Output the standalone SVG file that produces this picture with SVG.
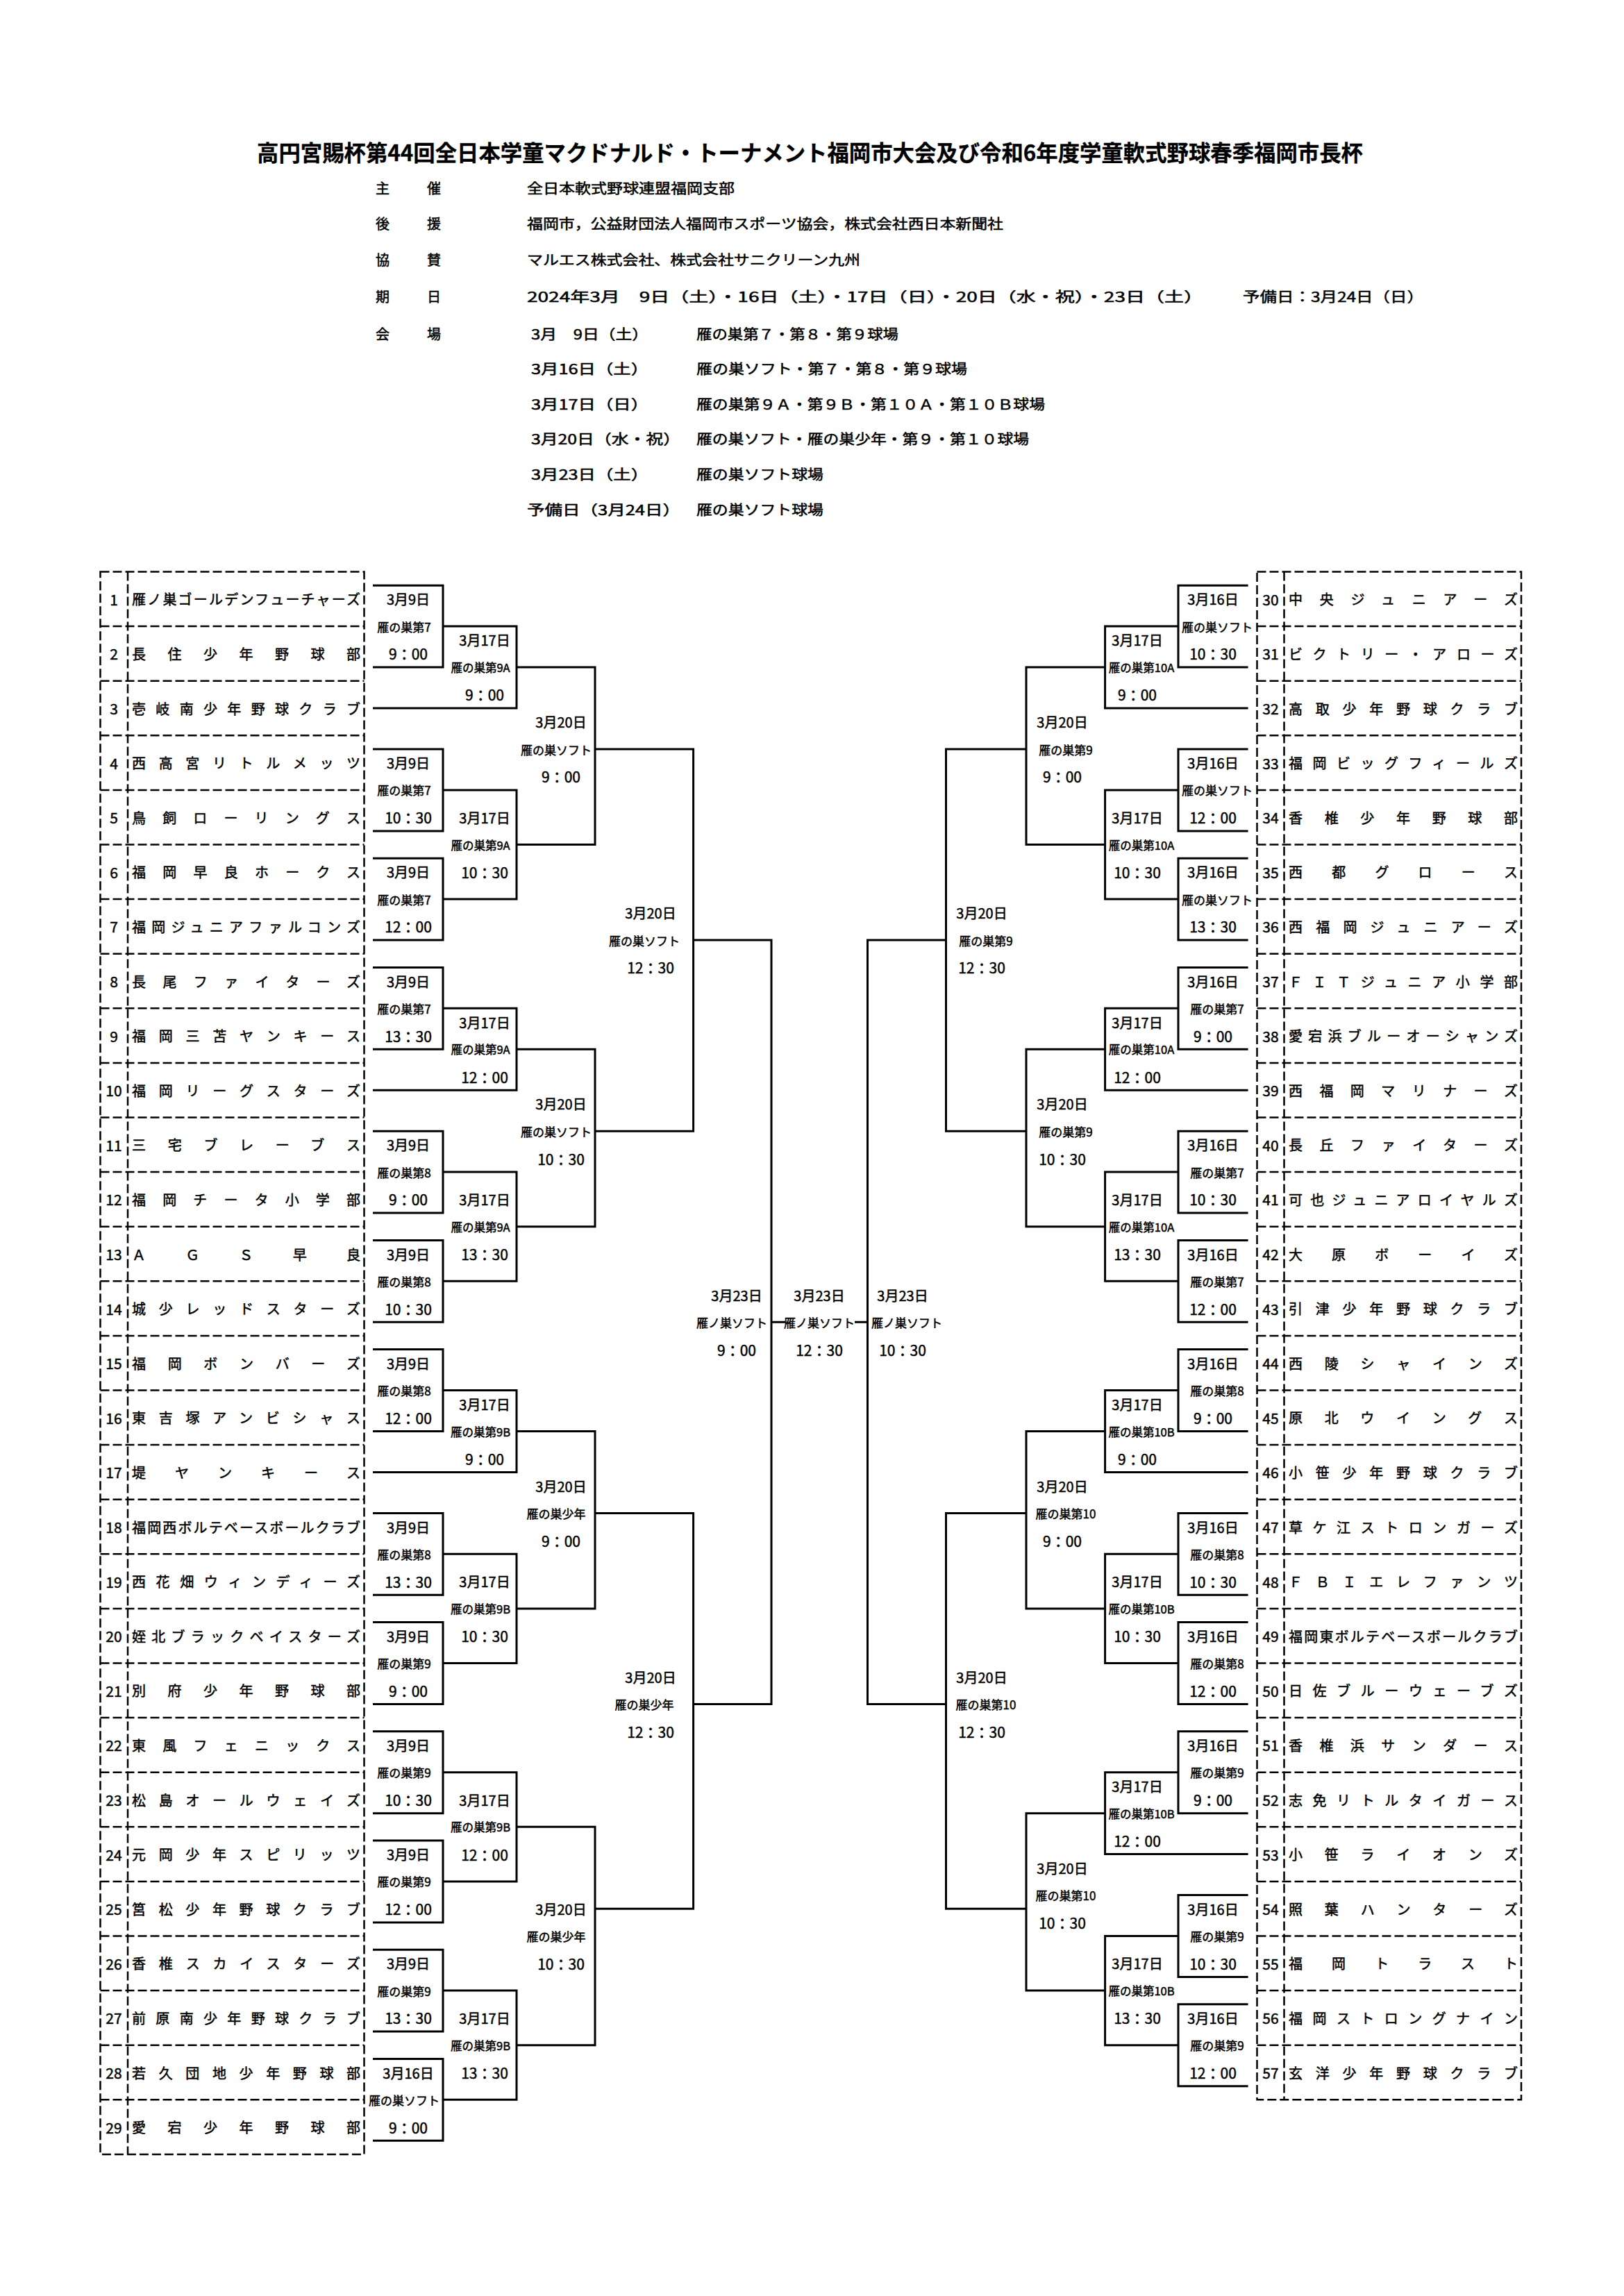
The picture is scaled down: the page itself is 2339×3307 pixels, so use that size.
<svg xmlns="http://www.w3.org/2000/svg" width="2339" height="3307" viewBox="0 0 2339 3307">
<style>
text{font-family:"Noto Sans CJK JP","Noto Sans",sans-serif;dominant-baseline:central;fill:#000;stroke:#000;stroke-width:0.5px}
.ti{font-size:32px;font-weight:bold;stroke-width:0.3px}
.h{font-size:20px}
.n{font-size:21px;text-anchor:middle}
.nm{font-size:20px}
.d{font-size:20px;text-anchor:middle}
.tm{font-size:21px;text-anchor:middle}
.v{font-size:17px;text-anchor:middle}
.v2{font-size:16.5px;text-anchor:middle}
.ln{fill:none;stroke:#000;stroke-width:3;stroke-linejoin:miter}
.bx{fill:none;stroke:#000;stroke-width:2.5;stroke-dasharray:13 5}
</style>
<rect width="2339" height="3307" fill="#fff"/>
<g id="header">
<text class="ti" x="370" y="218" textLength="1593" lengthAdjust="spacingAndGlyphs">高円宮賜杯第44回全日本学童マクドナルド・トーナメント福岡市大会及び令和6年度学童軟式野球春季福岡市長杯</text>
<text class="h" x="541" y="270" textLength="94">主催</text>
<text class="h" x="759" y="270" textLength="299" lengthAdjust="spacingAndGlyphs">全日本軟式野球連盟福岡支部</text>
<text class="h" x="541" y="321" textLength="94">後援</text>
<text class="h" x="759" y="321" textLength="686" lengthAdjust="spacingAndGlyphs">福岡市，公益財団法人福岡市スポーツ協会，株式会社西日本新聞社</text>
<text class="h" x="541" y="373" textLength="94">協賛</text>
<text class="h" x="759" y="373" textLength="480" lengthAdjust="spacingAndGlyphs">マルエス株式会社、株式会社サニクリーン九州</text>
<text class="h" x="541" y="426" textLength="94">期日</text>
<text class="h" x="759" y="426" textLength="974" lengthAdjust="spacingAndGlyphs">2024年3月　9日（土）・16日（土）・17日（日）・20日（水・祝）・23日（土）</text>
<text class="h" x="1790" y="426" textLength="261" lengthAdjust="spacingAndGlyphs">予備日：3月24日（日）</text>
<text class="h" x="541" y="480" textLength="94">会場</text>
<text class="h" x="765" y="480" textLength="169" lengthAdjust="spacingAndGlyphs">3月　9日（土）</text>
<text class="h" x="1003" y="480" textLength="291" lengthAdjust="spacingAndGlyphs">雁の巣第７・第８・第９球場</text>
<text class="h" x="765" y="530" textLength="169" lengthAdjust="spacingAndGlyphs">3月16日（土）</text>
<text class="h" x="1003" y="530" textLength="390" lengthAdjust="spacingAndGlyphs">雁の巣ソフト・第７・第８・第９球場</text>
<text class="h" x="765" y="581" textLength="169" lengthAdjust="spacingAndGlyphs">3月17日（日）</text>
<text class="h" x="1003" y="581" textLength="502" lengthAdjust="spacingAndGlyphs">雁の巣第９Ａ・第９Ｂ・第１０Ａ・第１０Ｂ球場</text>
<text class="h" x="765" y="631" textLength="215" lengthAdjust="spacingAndGlyphs">3月20日（水・祝）</text>
<text class="h" x="1003" y="631" textLength="479" lengthAdjust="spacingAndGlyphs">雁の巣ソフト・雁の巣少年・第９・第１０球場</text>
<text class="h" x="765" y="682" textLength="169" lengthAdjust="spacingAndGlyphs">3月23日（土）</text>
<text class="h" x="1003" y="682" textLength="183" lengthAdjust="spacingAndGlyphs">雁の巣ソフト球場</text>
<text class="h" x="759" y="733" textLength="221" lengthAdjust="spacingAndGlyphs">予備日（3月24日）</text>
<text class="h" x="1003" y="733" textLength="183" lengthAdjust="spacingAndGlyphs">雁の巣ソフト球場</text>
</g>
<g id="left-box">
<rect class="bx" x="144.5" y="823.5" width="380" height="2279.4"/>
<path class="bx" d="M184 823.5V3102.9"/>
<path class="bx" d="M144.5 902.1H524.5M144.5 980.7H524.5M144.5 1059.3H524.5M144.5 1137.9H524.5M144.5 1216.5H524.5M144.5 1295.1H524.5M144.5 1373.7H524.5M144.5 1452.3H524.5M144.5 1530.9H524.5M144.5 1609.5H524.5M144.5 1688.1H524.5M144.5 1766.7H524.5M144.5 1845.3H524.5M144.5 1923.9H524.5M144.5 2002.5H524.5M144.5 2081.1H524.5M144.5 2159.7H524.5M144.5 2238.3H524.5M144.5 2316.9H524.5M144.5 2395.5H524.5M144.5 2474.1H524.5M144.5 2552.7H524.5M144.5 2631.3H524.5M144.5 2709.9H524.5M144.5 2788.5H524.5M144.5 2867.1H524.5M144.5 2945.7H524.5M144.5 3024.3H524.5"/>
</g>
<g id="right-box">
<rect class="bx" x="1810.5" y="823.5" width="380.5" height="2200.8"/>
<path class="bx" d="M1849.5 823.5V3024.3"/>
<path class="bx" d="M1810.5 902.1H2191M1810.5 980.7H2191M1810.5 1059.3H2191M1810.5 1137.9H2191M1810.5 1216.5H2191M1810.5 1295.1H2191M1810.5 1373.7H2191M1810.5 1452.3H2191M1810.5 1530.9H2191M1810.5 1609.5H2191M1810.5 1688.1H2191M1810.5 1766.7H2191M1810.5 1845.3H2191M1810.5 1923.9H2191M1810.5 2002.5H2191M1810.5 2081.1H2191M1810.5 2159.7H2191M1810.5 2238.3H2191M1810.5 2316.9H2191M1810.5 2395.5H2191M1810.5 2474.1H2191M1810.5 2552.7H2191M1810.5 2631.3H2191M1810.5 2709.9H2191M1810.5 2788.5H2191M1810.5 2867.1H2191M1810.5 2945.7H2191"/>
</g>
<g id="teams-left">
<g id="team-1"><text class="n" x="164" y="862.8">1</text><text class="nm" x="190" y="862.8" textLength="329">雁ノ巣ゴールデンフューチャーズ</text></g>
<g id="team-2"><text class="n" x="164" y="941.4">2</text><text class="nm" x="190" y="941.4" textLength="329">長住少年野球部</text></g>
<g id="team-3"><text class="n" x="164" y="1020">3</text><text class="nm" x="190" y="1020" textLength="329">壱岐南少年野球クラブ</text></g>
<g id="team-4"><text class="n" x="164" y="1098.6">4</text><text class="nm" x="190" y="1098.6" textLength="329">西高宮リトルメッツ</text></g>
<g id="team-5"><text class="n" x="164" y="1177.2">5</text><text class="nm" x="190" y="1177.2" textLength="329">鳥飼ローリングス</text></g>
<g id="team-6"><text class="n" x="164" y="1255.8">6</text><text class="nm" x="190" y="1255.8" textLength="329">福岡早良ホークス</text></g>
<g id="team-7"><text class="n" x="164" y="1334.4">7</text><text class="nm" x="190" y="1334.4" textLength="329">福岡ジュニアファルコンズ</text></g>
<g id="team-8"><text class="n" x="164" y="1413">8</text><text class="nm" x="190" y="1413" textLength="329">長尾ファイターズ</text></g>
<g id="team-9"><text class="n" x="164" y="1491.6">9</text><text class="nm" x="190" y="1491.6" textLength="329">福岡三苫ヤンキース</text></g>
<g id="team-10"><text class="n" x="164" y="1570.2">10</text><text class="nm" x="190" y="1570.2" textLength="329">福岡リーグスターズ</text></g>
<g id="team-11"><text class="n" x="164" y="1648.8">11</text><text class="nm" x="190" y="1648.8" textLength="329">三宅ブレーブス</text></g>
<g id="team-12"><text class="n" x="164" y="1727.4">12</text><text class="nm" x="190" y="1727.4" textLength="329">福岡チータ小学部</text></g>
<g id="team-13"><text class="n" x="164" y="1806">13</text><text class="nm" x="190" y="1806" textLength="329">ＡＧＳ早良</text></g>
<g id="team-14"><text class="n" x="164" y="1884.6">14</text><text class="nm" x="190" y="1884.6" textLength="329">城少レッドスターズ</text></g>
<g id="team-15"><text class="n" x="164" y="1963.2">15</text><text class="nm" x="190" y="1963.2" textLength="329">福岡ボンバーズ</text></g>
<g id="team-16"><text class="n" x="164" y="2041.8">16</text><text class="nm" x="190" y="2041.8" textLength="329">東吉塚アンビシャス</text></g>
<g id="team-17"><text class="n" x="164" y="2120.4">17</text><text class="nm" x="190" y="2120.4" textLength="329">堤ヤンキース</text></g>
<g id="team-18"><text class="n" x="164" y="2199">18</text><text class="nm" x="190" y="2199" textLength="329">福岡西ボルテベースボールクラブ</text></g>
<g id="team-19"><text class="n" x="164" y="2277.6">19</text><text class="nm" x="190" y="2277.6" textLength="329">西花畑ウィンディーズ</text></g>
<g id="team-20"><text class="n" x="164" y="2356.2">20</text><text class="nm" x="190" y="2356.2" textLength="329">姪北ブラックベイスターズ</text></g>
<g id="team-21"><text class="n" x="164" y="2434.8">21</text><text class="nm" x="190" y="2434.8" textLength="329">別府少年野球部</text></g>
<g id="team-22"><text class="n" x="164" y="2513.4">22</text><text class="nm" x="190" y="2513.4" textLength="329">東風フェニックス</text></g>
<g id="team-23"><text class="n" x="164" y="2592">23</text><text class="nm" x="190" y="2592" textLength="329">松島オールウェイズ</text></g>
<g id="team-24"><text class="n" x="164" y="2670.6">24</text><text class="nm" x="190" y="2670.6" textLength="329">元岡少年スピリッツ</text></g>
<g id="team-25"><text class="n" x="164" y="2749.2">25</text><text class="nm" x="190" y="2749.2" textLength="329">筥松少年野球クラブ</text></g>
<g id="team-26"><text class="n" x="164" y="2827.8">26</text><text class="nm" x="190" y="2827.8" textLength="329">香椎スカイスターズ</text></g>
<g id="team-27"><text class="n" x="164" y="2906.4">27</text><text class="nm" x="190" y="2906.4" textLength="329">前原南少年野球クラブ</text></g>
<g id="team-28"><text class="n" x="164" y="2985">28</text><text class="nm" x="190" y="2985" textLength="329">若久団地少年野球部</text></g>
<g id="team-29"><text class="n" x="164" y="3063.6">29</text><text class="nm" x="190" y="3063.6" textLength="329">愛宕少年野球部</text></g>
</g>
<g id="teams-right">
<g id="team-30"><text class="n" x="1830" y="862.8">30</text><text class="nm" x="1856" y="862.8" textLength="330">中央ジュニアーズ</text></g>
<g id="team-31"><text class="n" x="1830" y="941.4">31</text><text class="nm" x="1856" y="941.4" textLength="330">ビクトリー・アローズ</text></g>
<g id="team-32"><text class="n" x="1830" y="1020">32</text><text class="nm" x="1856" y="1020" textLength="330">高取少年野球クラブ</text></g>
<g id="team-33"><text class="n" x="1830" y="1098.6">33</text><text class="nm" x="1856" y="1098.6" textLength="330">福岡ビッグフィールズ</text></g>
<g id="team-34"><text class="n" x="1830" y="1177.2">34</text><text class="nm" x="1856" y="1177.2" textLength="330">香椎少年野球部</text></g>
<g id="team-35"><text class="n" x="1830" y="1255.8">35</text><text class="nm" x="1856" y="1255.8" textLength="330">西都グロース</text></g>
<g id="team-36"><text class="n" x="1830" y="1334.4">36</text><text class="nm" x="1856" y="1334.4" textLength="330">西福岡ジュニアーズ</text></g>
<g id="team-37"><text class="n" x="1830" y="1413">37</text><text class="nm" x="1856" y="1413" textLength="330">ＦＩＴジュニア小学部</text></g>
<g id="team-38"><text class="n" x="1830" y="1491.6">38</text><text class="nm" x="1856" y="1491.6" textLength="330">愛宕浜ブルーオーシャンズ</text></g>
<g id="team-39"><text class="n" x="1830" y="1570.2">39</text><text class="nm" x="1856" y="1570.2" textLength="330">西福岡マリナーズ</text></g>
<g id="team-40"><text class="n" x="1830" y="1648.8">40</text><text class="nm" x="1856" y="1648.8" textLength="330">長丘ファイターズ</text></g>
<g id="team-41"><text class="n" x="1830" y="1727.4">41</text><text class="nm" x="1856" y="1727.4" textLength="330">可也ジュニアロイヤルズ</text></g>
<g id="team-42"><text class="n" x="1830" y="1806">42</text><text class="nm" x="1856" y="1806" textLength="330">大原ボーイズ</text></g>
<g id="team-43"><text class="n" x="1830" y="1884.6">43</text><text class="nm" x="1856" y="1884.6" textLength="330">引津少年野球クラブ</text></g>
<g id="team-44"><text class="n" x="1830" y="1963.2">44</text><text class="nm" x="1856" y="1963.2" textLength="330">西陵シャインズ</text></g>
<g id="team-45"><text class="n" x="1830" y="2041.8">45</text><text class="nm" x="1856" y="2041.8" textLength="330">原北ウイングス</text></g>
<g id="team-46"><text class="n" x="1830" y="2120.4">46</text><text class="nm" x="1856" y="2120.4" textLength="330">小笹少年野球クラブ</text></g>
<g id="team-47"><text class="n" x="1830" y="2199">47</text><text class="nm" x="1856" y="2199" textLength="330">草ケ江ストロンガーズ</text></g>
<g id="team-48"><text class="n" x="1830" y="2277.6">48</text><text class="nm" x="1856" y="2277.6" textLength="330">ＦＢＩエレファンツ</text></g>
<g id="team-49"><text class="n" x="1830" y="2356.2">49</text><text class="nm" x="1856" y="2356.2" textLength="330">福岡東ボルテベースボールクラブ</text></g>
<g id="team-50"><text class="n" x="1830" y="2434.8">50</text><text class="nm" x="1856" y="2434.8" textLength="330">日佐ブルーウェーブズ</text></g>
<g id="team-51"><text class="n" x="1830" y="2513.4">51</text><text class="nm" x="1856" y="2513.4" textLength="330">香椎浜サンダース</text></g>
<g id="team-52"><text class="n" x="1830" y="2592">52</text><text class="nm" x="1856" y="2592" textLength="330">志免リトルタイガース</text></g>
<g id="team-53"><text class="n" x="1830" y="2670.6">53</text><text class="nm" x="1856" y="2670.6" textLength="330">小笹ライオンズ</text></g>
<g id="team-54"><text class="n" x="1830" y="2749.2">54</text><text class="nm" x="1856" y="2749.2" textLength="330">照葉ハンターズ</text></g>
<g id="team-55"><text class="n" x="1830" y="2827.8">55</text><text class="nm" x="1856" y="2827.8" textLength="330">福岡トラスト</text></g>
<g id="team-56"><text class="n" x="1830" y="2906.4">56</text><text class="nm" x="1856" y="2906.4" textLength="330">福岡ストロングナイン</text></g>
<g id="team-57"><text class="n" x="1830" y="2985">57</text><text class="nm" x="1856" y="2985" textLength="330">玄洋少年野球クラブ</text></g>
</g>
<g id="connectors">
<path class="ln" d="M537 843.2H638V961.1H537"/>
<path class="ln" d="M537 1079H638V1196.9H537"/>
<path class="ln" d="M537 1236.2H638V1354.1H537"/>
<path class="ln" d="M638 902.1H744V1020H537"/>
<path class="ln" d="M638 1137.9H744V1295.1H638"/>
<path class="ln" d="M744 961.1H857V1216.5H744"/>
<path class="ln" d="M537 1393.4H638V1511.3H537"/>
<path class="ln" d="M537 1629.2H638V1747.1H537"/>
<path class="ln" d="M537 1786.4H638V1904.3H537"/>
<path class="ln" d="M638 1452.3H744V1570.2H537"/>
<path class="ln" d="M638 1688.1H744V1845.3H638"/>
<path class="ln" d="M744 1511.3H857V1766.7H744"/>
<path class="ln" d="M857 1079H998.6V1629.2H857"/>
<path class="ln" d="M537 1943.6H638V2061.5H537"/>
<path class="ln" d="M537 2179.4H638V2297.3H537"/>
<path class="ln" d="M537 2336.6H638V2454.5H537"/>
<path class="ln" d="M638 2002.5H744V2120.4H537"/>
<path class="ln" d="M638 2238.3H744V2395.5H638"/>
<path class="ln" d="M744 2061.5H857V2316.9H744"/>
<path class="ln" d="M537 2493.8H638V2611.7H537"/>
<path class="ln" d="M537 2651H638V2768.9H537"/>
<path class="ln" d="M537 2808.2H638V2926.1H537"/>
<path class="ln" d="M537 2965.4H638V3083.3H537"/>
<path class="ln" d="M638 2552.7H744V2709.9H638"/>
<path class="ln" d="M638 2867.1H744V3024.3H638"/>
<path class="ln" d="M744 2631.3H857V2945.7H744"/>
<path class="ln" d="M857 2179.4H998.6V2749.2H857"/>
<path class="ln" d="M998.6 1354.1H1111V2454.5H998.6"/>
<path class="ln" d="M1111 1904.3H1131M1231 1904.3H1249.5"/>
<path class="ln" d="M1797.6 843.2H1697V961.1H1797.6"/>
<path class="ln" d="M1797.6 1079H1697V1196.9H1797.6"/>
<path class="ln" d="M1797.6 1236.2H1697V1354.1H1797.6"/>
<path class="ln" d="M1697 902.1H1591.6V1020H1797.6"/>
<path class="ln" d="M1697 1137.9H1591.6V1295.1H1697"/>
<path class="ln" d="M1591.6 961.1H1478V1216.5H1591.6"/>
<path class="ln" d="M1797.6 1393.4H1697V1511.3H1797.6"/>
<path class="ln" d="M1797.6 1629.2H1697V1747.1H1797.6"/>
<path class="ln" d="M1797.6 1786.4H1697V1904.3H1797.6"/>
<path class="ln" d="M1697 1452.3H1591.6V1570.2H1797.6"/>
<path class="ln" d="M1697 1688.1H1591.6V1845.3H1697"/>
<path class="ln" d="M1591.6 1511.3H1478V1766.7H1591.6"/>
<path class="ln" d="M1478 1079H1362.5V1629.2H1478"/>
<path class="ln" d="M1797.6 1943.6H1697V2061.5H1797.6"/>
<path class="ln" d="M1797.6 2179.4H1697V2297.3H1797.6"/>
<path class="ln" d="M1797.6 2336.6H1697V2454.5H1797.6"/>
<path class="ln" d="M1697 2002.5H1591.6V2120.4H1797.6"/>
<path class="ln" d="M1697 2238.3H1591.6V2395.5H1697"/>
<path class="ln" d="M1591.6 2061.5H1478V2316.9H1591.6"/>
<path class="ln" d="M1797.6 2493.8H1697V2611.7H1797.6"/>
<path class="ln" d="M1797.6 2729.6H1697V2847.5H1797.6"/>
<path class="ln" d="M1797.6 2886.8H1697V3004.7H1797.6"/>
<path class="ln" d="M1697 2552.7H1591.6V2670.6H1797.6"/>
<path class="ln" d="M1697 2788.5H1591.6V2945.7H1697"/>
<path class="ln" d="M1591.6 2611.7H1478V2867.1H1591.6"/>
<path class="ln" d="M1478 2179.4H1362.5V2749.2H1478"/>
<path class="ln" d="M1362.5 1354.1H1249.5V2454.5H1362.5"/>
</g>
<g id="matches-left">
<g id="m-l01"><text class="d" x="588" y="862.8">3月9日</text><text class="v" x="582" y="902.1">雁の巣第7</text><text class="tm" x="588" y="941.4">9：00</text></g>
<g id="m-l02"><text class="d" x="698" y="921.8">3月17日</text><text class="v2" x="692" y="961.1">雁の巣第9A</text><text class="tm" x="698" y="1000.4">9：00</text></g>
<g id="m-l03"><text class="d" x="588" y="1098.6">3月9日</text><text class="v" x="582" y="1137.9">雁の巣第7</text><text class="tm" x="588" y="1177.2">10：30</text></g>
<g id="m-l04"><text class="d" x="588" y="1255.8">3月9日</text><text class="v" x="582" y="1295.1">雁の巣第7</text><text class="tm" x="588" y="1334.4">12：00</text></g>
<g id="m-l05"><text class="d" x="698" y="1177.2">3月17日</text><text class="v2" x="692" y="1216.5">雁の巣第9A</text><text class="tm" x="698" y="1255.8">10：30</text></g>
<g id="m-l06"><text class="d" x="808" y="1039.7">3月20日</text><text class="v" x="801" y="1079">雁の巣ソフト</text><text class="tm" x="808" y="1118.3">9：00</text></g>
<g id="m-l07"><text class="d" x="588" y="1413">3月9日</text><text class="v" x="582" y="1452.3">雁の巣第7</text><text class="tm" x="588" y="1491.6">13：30</text></g>
<g id="m-l08"><text class="d" x="698" y="1472">3月17日</text><text class="v2" x="692" y="1511.3">雁の巣第9A</text><text class="tm" x="698" y="1550.6">12：00</text></g>
<g id="m-l09"><text class="d" x="588" y="1648.8">3月9日</text><text class="v" x="582" y="1688.1">雁の巣第8</text><text class="tm" x="588" y="1727.4">9：00</text></g>
<g id="m-l10"><text class="d" x="588" y="1806">3月9日</text><text class="v" x="582" y="1845.3">雁の巣第8</text><text class="tm" x="588" y="1884.6">10：30</text></g>
<g id="m-l11"><text class="d" x="698" y="1727.4">3月17日</text><text class="v2" x="692" y="1766.7">雁の巣第9A</text><text class="tm" x="698" y="1806">13：30</text></g>
<g id="m-l12"><text class="d" x="808" y="1589.9">3月20日</text><text class="v" x="801" y="1629.2">雁の巣ソフト</text><text class="tm" x="808" y="1668.5">10：30</text></g>
<g id="m-l13"><text class="d" x="937" y="1314.8">3月20日</text><text class="v" x="928" y="1354.1">雁の巣ソフト</text><text class="tm" x="937" y="1393.4">12：30</text></g>
<g id="m-l14"><text class="d" x="588" y="1963.2">3月9日</text><text class="v" x="582" y="2002.5">雁の巣第8</text><text class="tm" x="588" y="2041.8">12：00</text></g>
<g id="m-l15"><text class="d" x="698" y="2022.2">3月17日</text><text class="v2" x="692" y="2061.5">雁の巣第9B</text><text class="tm" x="698" y="2100.8">9：00</text></g>
<g id="m-l16"><text class="d" x="588" y="2199">3月9日</text><text class="v" x="582" y="2238.3">雁の巣第8</text><text class="tm" x="588" y="2277.6">13：30</text></g>
<g id="m-l17"><text class="d" x="588" y="2356.2">3月9日</text><text class="v" x="582" y="2395.5">雁の巣第9</text><text class="tm" x="588" y="2434.8">9：00</text></g>
<g id="m-l18"><text class="d" x="698" y="2277.6">3月17日</text><text class="v2" x="692" y="2316.9">雁の巣第9B</text><text class="tm" x="698" y="2356.2">10：30</text></g>
<g id="m-l19"><text class="d" x="808" y="2140.1">3月20日</text><text class="v" x="801" y="2179.4">雁の巣少年</text><text class="tm" x="808" y="2218.7">9：00</text></g>
<g id="m-l20"><text class="d" x="588" y="2513.4">3月9日</text><text class="v" x="582" y="2552.7">雁の巣第9</text><text class="tm" x="588" y="2592">10：30</text></g>
<g id="m-l21"><text class="d" x="588" y="2670.6">3月9日</text><text class="v" x="582" y="2709.9">雁の巣第9</text><text class="tm" x="588" y="2749.2">12：00</text></g>
<g id="m-l22"><text class="d" x="698" y="2592">3月17日</text><text class="v2" x="692" y="2631.3">雁の巣第9B</text><text class="tm" x="698" y="2670.6">12：00</text></g>
<g id="m-l23"><text class="d" x="588" y="2827.8">3月9日</text><text class="v" x="582" y="2867.1">雁の巣第9</text><text class="tm" x="588" y="2906.4">13：30</text></g>
<g id="m-l24"><text class="d" x="588" y="2985">3月16日</text><text class="v" x="582" y="3024.3">雁の巣ソフト</text><text class="tm" x="588" y="3063.6">9：00</text></g>
<g id="m-l25"><text class="d" x="698" y="2906.4">3月17日</text><text class="v2" x="692" y="2945.7">雁の巣第9B</text><text class="tm" x="698" y="2985">13：30</text></g>
<g id="m-l26"><text class="d" x="808" y="2749.2">3月20日</text><text class="v" x="801" y="2788.5">雁の巣少年</text><text class="tm" x="808" y="2827.8">10：30</text></g>
<g id="m-l27"><text class="d" x="937" y="2415.2">3月20日</text><text class="v" x="928" y="2454.5">雁の巣少年</text><text class="tm" x="937" y="2493.8">12：30</text></g>
<g id="m-l28"><text class="d" x="1061" y="1865">3月23日</text><text class="v" x="1054" y="1904.3">雁ノ巣ソフト</text><text class="tm" x="1061" y="1943.6">9：00</text></g>
</g>
<g id="match-final"><text class="d" x="1180" y="1865">3月23日</text><text class="v" x="1180" y="1904.3">雁ノ巣ソフト</text><text class="tm" x="1180" y="1943.6">12：30</text></g>
<g id="matches-right">
<g id="m-r28"><text class="d" x="1300" y="1865">3月23日</text><text class="v" x="1306" y="1904.3">雁ノ巣ソフト</text><text class="tm" x="1300" y="1943.6">10：30</text></g>
<g id="m-r01"><text class="d" x="1747" y="862.8">3月16日</text><text class="v" x="1753" y="902.1">雁の巣ソフト</text><text class="tm" x="1747" y="941.4">10：30</text></g>
<g id="m-r02"><text class="d" x="1638" y="921.8">3月17日</text><text class="v2" x="1644" y="961.1">雁の巣第10A</text><text class="tm" x="1638" y="1000.4">9：00</text></g>
<g id="m-r03"><text class="d" x="1747" y="1098.6">3月16日</text><text class="v" x="1753" y="1137.9">雁の巣ソフト</text><text class="tm" x="1747" y="1177.2">12：00</text></g>
<g id="m-r04"><text class="d" x="1747" y="1255.8">3月16日</text><text class="v" x="1753" y="1295.1">雁の巣ソフト</text><text class="tm" x="1747" y="1334.4">13：30</text></g>
<g id="m-r05"><text class="d" x="1638" y="1177.2">3月17日</text><text class="v2" x="1644" y="1216.5">雁の巣第10A</text><text class="tm" x="1638" y="1255.8">10：30</text></g>
<g id="m-r06"><text class="d" x="1530" y="1039.7">3月20日</text><text class="v" x="1535" y="1079">雁の巣第9</text><text class="tm" x="1530" y="1118.3">9：00</text></g>
<g id="m-r07"><text class="d" x="1747" y="1413">3月16日</text><text class="v" x="1753" y="1452.3">雁の巣第7</text><text class="tm" x="1747" y="1491.6">9：00</text></g>
<g id="m-r08"><text class="d" x="1638" y="1472">3月17日</text><text class="v2" x="1644" y="1511.3">雁の巣第10A</text><text class="tm" x="1638" y="1550.6">12：00</text></g>
<g id="m-r09"><text class="d" x="1747" y="1648.8">3月16日</text><text class="v" x="1753" y="1688.1">雁の巣第7</text><text class="tm" x="1747" y="1727.4">10：30</text></g>
<g id="m-r10"><text class="d" x="1747" y="1806">3月16日</text><text class="v" x="1753" y="1845.3">雁の巣第7</text><text class="tm" x="1747" y="1884.6">12：00</text></g>
<g id="m-r11"><text class="d" x="1638" y="1727.4">3月17日</text><text class="v2" x="1644" y="1766.7">雁の巣第10A</text><text class="tm" x="1638" y="1806">13：30</text></g>
<g id="m-r12"><text class="d" x="1530" y="1589.9">3月20日</text><text class="v" x="1535" y="1629.2">雁の巣第9</text><text class="tm" x="1530" y="1668.5">10：30</text></g>
<g id="m-r13"><text class="d" x="1414" y="1314.8">3月20日</text><text class="v" x="1420" y="1354.1">雁の巣第9</text><text class="tm" x="1414" y="1393.4">12：30</text></g>
<g id="m-r14"><text class="d" x="1747" y="1963.2">3月16日</text><text class="v" x="1753" y="2002.5">雁の巣第8</text><text class="tm" x="1747" y="2041.8">9：00</text></g>
<g id="m-r15"><text class="d" x="1638" y="2022.2">3月17日</text><text class="v2" x="1644" y="2061.5">雁の巣第10B</text><text class="tm" x="1638" y="2100.8">9：00</text></g>
<g id="m-r16"><text class="d" x="1747" y="2199">3月16日</text><text class="v" x="1753" y="2238.3">雁の巣第8</text><text class="tm" x="1747" y="2277.6">10：30</text></g>
<g id="m-r17"><text class="d" x="1747" y="2356.2">3月16日</text><text class="v" x="1753" y="2395.5">雁の巣第8</text><text class="tm" x="1747" y="2434.8">12：00</text></g>
<g id="m-r18"><text class="d" x="1638" y="2277.6">3月17日</text><text class="v2" x="1644" y="2316.9">雁の巣第10B</text><text class="tm" x="1638" y="2356.2">10：30</text></g>
<g id="m-r19"><text class="d" x="1530" y="2140.1">3月20日</text><text class="v" x="1535" y="2179.4">雁の巣第10</text><text class="tm" x="1530" y="2218.7">9：00</text></g>
<g id="m-r20"><text class="d" x="1747" y="2513.4">3月16日</text><text class="v" x="1753" y="2552.7">雁の巣第9</text><text class="tm" x="1747" y="2592">9：00</text></g>
<g id="m-r21"><text class="d" x="1638" y="2572.4">3月17日</text><text class="v2" x="1644" y="2611.7">雁の巣第10B</text><text class="tm" x="1638" y="2651">12：00</text></g>
<g id="m-r22"><text class="d" x="1747" y="2749.2">3月16日</text><text class="v" x="1753" y="2788.5">雁の巣第9</text><text class="tm" x="1747" y="2827.8">10：30</text></g>
<g id="m-r23"><text class="d" x="1747" y="2906.4">3月16日</text><text class="v" x="1753" y="2945.7">雁の巣第9</text><text class="tm" x="1747" y="2985">12：00</text></g>
<g id="m-r24"><text class="d" x="1638" y="2827.8">3月17日</text><text class="v2" x="1644" y="2867.1">雁の巣第10B</text><text class="tm" x="1638" y="2906.4">13：30</text></g>
<g id="m-r25"><text class="d" x="1530" y="2690.3">3月20日</text><text class="v" x="1535" y="2729.6">雁の巣第10</text><text class="tm" x="1530" y="2768.9">10：30</text></g>
<g id="m-r26"><text class="d" x="1414" y="2415.2">3月20日</text><text class="v" x="1420" y="2454.5">雁の巣第10</text><text class="tm" x="1414" y="2493.8">12：30</text></g>
</g>
</svg>
